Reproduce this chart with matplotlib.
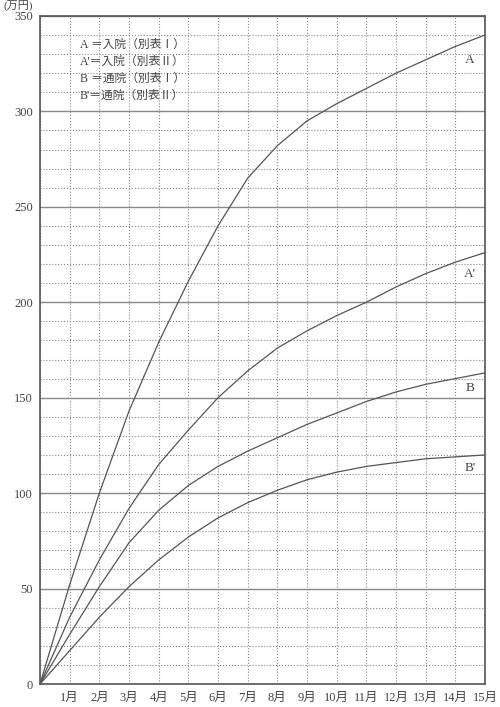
import numpy as np
import matplotlib.pyplot as plt
from matplotlib.ticker import MultipleLocator

plt.rcParams['font.family'] = ['Liberation Serif', 'Noto Sans CJK JP', 'DejaVu Sans']

# 月数
months = list(range(16))
month_labels = [''] + [f'{m}月' for m in range(1, 16)]

# 各曲線の値 (万円)
a_vals = [0, 52, 100, 143, 179, 211, 240, 265, 282, 295, 304, 312, 320, 327, 334, 340]
a2_vals = [0, 35, 65, 92, 115, 133, 150, 164, 176, 185, 193, 200, 208, 215, 221, 226]
b_vals = [0, 26, 51, 74, 91, 104, 114, 122, 129, 136, 142, 148, 153, 157, 160, 163]
b2_vals = [0, 17.5, 35, 51, 65, 77, 87, 95, 101.5, 107, 111, 114, 116, 118, 119, 120]

curve_names = ['A', "A'", 'B', "B'"]
curve_label_y = [327, 215, 155, 113]
legend_lines = ['A ＝入院（別表Ⅰ）', "A'＝入院（別表Ⅱ）", 'B ＝通院（別表Ⅰ）', "B'＝通院（別表Ⅱ）"]

fig = plt.figure(figsize=(5, 7.07), dpi=100)
ax = fig.add_axes([0.08, 0.0325, 0.89, 0.945])

grey = '#555555'
for vals in [a_vals, a2_vals, b_vals, b2_vals]:
    ax.plot(months, vals, color=grey, linewidth=0.9)

ax.set_xlim(0, 15)
ax.set_ylim(0, 350)

ax.set_xticks(months)
ax.set_xticklabels(month_labels)
ax.yaxis.set_major_locator(MultipleLocator(50))
ax.yaxis.set_minor_locator(MultipleLocator(10))

ax.grid(which='major', axis='x', linestyle=':', color='#888888', linewidth=0.8)
ax.grid(which='minor', axis='y', linestyle=':', color='#888888', linewidth=0.8)
ax.grid(which='major', axis='y', linestyle='-', color='#888888', linewidth=1.0)
ax.set_axisbelow(True)

ax.tick_params(which='both', length=0, labelsize=9, colors='#444444')
ax.tick_params(axis='x', pad=6)
ax.tick_params(axis='y', pad=5)

for s in ax.spines.values():
    s.set_color('#555555')
    s.set_linewidth(1.2)

for name, x, y in zip(curve_names, [14.5] * 4, curve_label_y):
    ax.text(x, y, name, fontsize=9.5, color='#444444', ha='center', va='center')

for i, line in enumerate(legend_lines):
    ax.text(1.35, 335 - i * 9, line, fontsize=8.5, color='#444444', va='center')

fig.text(0.006, 0.999, '(万円)', fontsize=8, color='#444444', va='top')

fig.savefig('out.png', dpi=100)
